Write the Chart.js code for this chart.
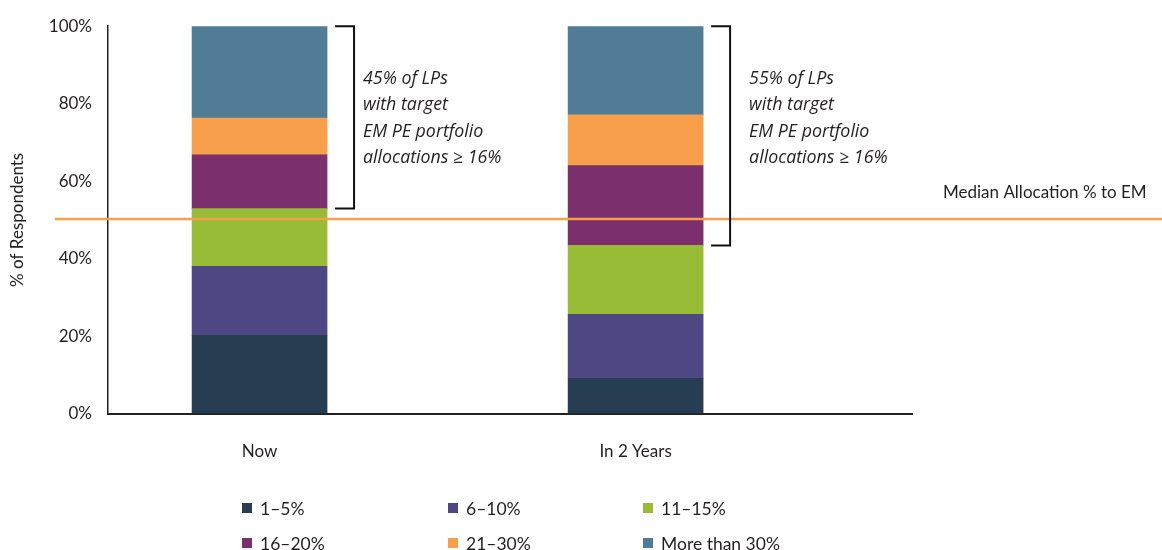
<!DOCTYPE html>
<html>
<head>
<meta charset="utf-8">
<script src="https://cdn.jsdelivr.net/npm/chart.js@4/dist/chart.umd.min.js"></script>
<style>
  html, body { margin: 0; padding: 0; background: #fff; }
  #wrap { width: 1162px; height: 550px; position: relative; }
</style>
</head>
<body>
<div id="wrap"><canvas id="c" width="1162" height="550"></canvas></div>
<script>
// ---- Data ----
const categories = ['Now', 'In 2 Years'];
const seriesLabels = ['1–5%', '6–10%', '11–15%', '16–20%', '21–30%', 'More than 30%'];
const s1to5   = [20.2, 9.1];
const s6to10  = [17.8, 16.5];
const s11to15 = [14.9, 17.8];
const s16to20 = [13.9, 20.6];
const s21to30 = [9.5, 13.1];
const sOver30 = [23.7, 22.9];
const yTicks = [0, 20, 40, 60, 80, 100];
const medianAllocation = 50.2;
const medianLabel = 'Median Allocation % to EM';
const bracketNotes = [
  ['45% of LPs', 'with target', 'EM PE portfolio', 'allocations ≥ 16%'],
  ['55% of LPs', 'with target', 'EM PE portfolio', 'allocations ≥ 16%']
];
const yTitle = '% of Respondents';

// ---- Styles ----
const colors = ['#273D51', '#4F4784', '#98BC35', '#7B2F6C', '#F79F4A', '#517C96'];
const FONT = 'Lato, "Open Sans", sans-serif';
const NOTE_FONT = '"Open Sans", Lato, sans-serif';
const TXT = '#231F20';

const seriesValues = [s1to5, s6to10, s11to15, s16to20, s21to30, sOver30];
const datasets = seriesValues.map((arr, k) => ({
  label: seriesLabels[k],
  data: arr.map((v, i) => ({ x: i, y: v })),
  backgroundColor: colors[k],
  borderWidth: 0,
  barThickness: 135
}));

const overlayPlugin = {
  id: 'overlay',
  afterDraw(chart) {
    const ctx = chart.ctx;
    const xs = chart.scales.x, ys = chart.scales.y;
    ctx.save();
    // median line
    const my = ys.getPixelForValue(medianAllocation);
    ctx.strokeStyle = '#F6A04D';
    ctx.lineWidth = 2.5;
    ctx.beginPath();
    ctx.moveTo(55, my);
    ctx.lineTo(chart.width, my);
    ctx.stroke();
    ctx.fillStyle = TXT;
    ctx.font = '17px ' + FONT;
    ctx.textBaseline = 'middle';
    ctx.textAlign = 'left';
    ctx.fillText(medianLabel, 943, my - 27);

    // brackets: from top of 11-15% segment to 100%
    const textOffsets = [36, 46];
    categories.forEach((c, i) => {
      const half = 135 / 2;
      const right = xs.getPixelForValue(i) + half;
      const base = s1to5[i] + s6to10[i] + s11to15[i];
      const total = base + s16to20[i] + s21to30[i] + sOver30[i];
      const yb = ys.getPixelForValue(base);
      const yt = ys.getPixelForValue(total);
      ctx.strokeStyle = '#111';
      ctx.lineWidth = 2;
      ctx.beginPath();
      ctx.moveTo(right + 8, yt);
      ctx.lineTo(right + 27, yt);
      ctx.lineTo(right + 27, yb);
      ctx.lineTo(right + 8, yb);
      ctx.stroke();
      ctx.fillStyle = TXT;
      ctx.font = 'italic 17.8px ' + NOTE_FONT;
      ctx.textBaseline = 'middle';
      bracketNotes[i].forEach((line, j) => {
        ctx.fillText(line, right + textOffsets[i], 79 + j * 26.3);
      });
    });

    // legend
    const colX = [242, 448, 643];
    const rowY = [508, 543];
    ctx.font = '17.5px ' + FONT;
    chart.data.datasets.forEach((ds, k) => {
      const cx = colX[k % 3], cy = rowY[Math.floor(k / 3)];
      ctx.fillStyle = ds.backgroundColor;
      ctx.fillRect(cx, cy - 5, 10, 10);
      ctx.fillStyle = TXT;
      ctx.textBaseline = 'middle';
      ctx.fillText(ds.label, cx + 18, cy + 1);
    });
    ctx.restore();
  }
};

new Chart(document.getElementById('c'), {
  type: 'bar',
  data: { datasets },
  options: {
    responsive: false,
    animation: false,
    layout: { padding: { top: 25, right: 250, left: 0, bottom: 0 } },
    plugins: { legend: { display: false }, tooltip: { enabled: false } },
    scales: {
      x: {
        type: 'linear',
        stacked: true,
        offset: false,
        min: -0.403,
        max: 1.735,
        afterBuildTicks: (s) => { s.ticks = categories.map((c, i) => ({ value: i })); },
        afterFit: (s) => { s.height = 136.5; },
        grid: { display: false, drawTicks: false, offset: false },
        border: { display: true, color: '#222', width: 2 },
        ticks: {
          autoSkip: false,
          maxRotation: 0,
          padding: 28,
          color: TXT,
          font: { family: FONT, size: 17 },
          callback: (v) => categories[v] ?? ''
        }
      },
      y: {
        stacked: true,
        min: 0,
        max: 100,
        afterBuildTicks: (s) => { s.ticks = yTicks.map(v => ({ value: v })); },
        afterFit: (s) => { s.width = 108; },
        grid: { display: false, drawTicks: false },
        border: { display: true, color: '#222', width: 1.5 },
        ticks: {
          padding: 16,
          color: TXT,
          font: { family: FONT, size: 17 },
          callback: (v) => v + '%'
        },
        title: {
          display: true,
          text: yTitle,
          color: TXT,
          font: { family: FONT, size: 17 },
          padding: { top: 7, bottom: 0 }
        }
      }
    }
  },
  plugins: [overlayPlugin]
});
</script>
</body>
</html>
